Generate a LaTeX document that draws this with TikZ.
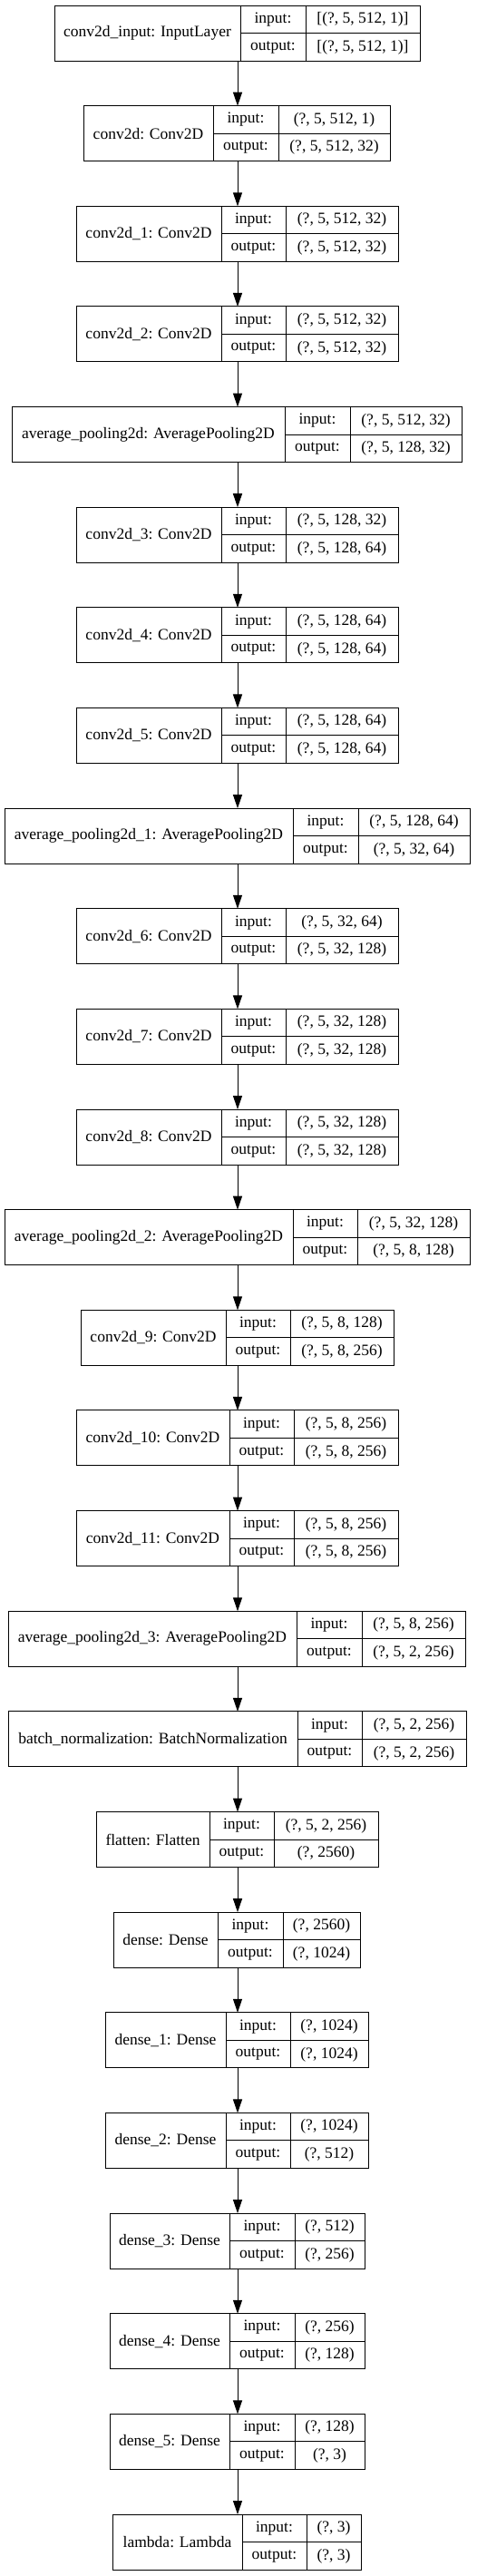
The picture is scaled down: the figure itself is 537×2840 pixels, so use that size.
\documentclass[tikz,border=0pt]{standalone}
\usepackage{fontspec}
\setmainfont{Liberation Serif}
\usetikzlibrary{arrows.meta}
\tikzset{
  box/.style={draw=black, line width=1pt, inner sep=0pt, outer sep=0pt, minimum height=61pt, fill=white},
  cell/.style={draw=black, line width=1pt},
  txt/.style={inner sep=0pt, font=\fontsize{17.5}{21}\selectfont},
  arr/.style={draw=black, line width=1pt, -{Triangle[length=15pt, width=10pt]}},
}
\newcommand\layer[8]{%
  \pgfmathsetmacro\lyrtop{6+#1*110.64}%
  \pgfmathsetmacro\lyrwid{#5-#2}%
  \node[box, minimum width=\lyrwid pt, anchor=north west] (L#1) at (#2,\lyrtop) {};
  \draw[cell] (#3,\lyrtop) -- ++(0,61) (#4,\lyrtop) -- ++(0,61) (#3,\lyrtop+30.5) -- (#5,\lyrtop+30.5);
  \node[txt] (N#1) at ({(#2+#3)/2},\lyrtop+30.5) {#6};
  \node[txt] (I#1) at ({(#3+#4)/2},\lyrtop+15.3) {input:};
  \node[txt] (O#1) at ({(#3+#4)/2},\lyrtop+46) {output:};
  \node[txt] (IV#1) at ({(#4+#5)/2},\lyrtop+15.3) {#7};
  \node[txt] (OV#1) at ({(#4+#5)/2},\lyrtop+46) {#8};
}
\begin{document}
\begin{tikzpicture}[x=1pt,y=-1pt]
\useasboundingbox[fill=white] (0,0) rectangle (537,2840);
\coordinate (ax) at (262,0);
\layer{0}{60}{265}{337}{463}{conv2d\_input: InputLayer}{[(?, 5, 512, 1)]}{[(?, 5, 512, 1)]}
\layer{1}{92}{235}{307}{430}{conv2d: Conv2D}{(?, 5, 512, 1)}{(?, 5, 512, 32)}
\layer{2}{84}{244}{315}{439}{conv2d\_1: Conv2D}{(?, 5, 512, 32)}{(?, 5, 512, 32)}
\layer{3}{84}{244}{315}{439}{conv2d\_2: Conv2D}{(?, 5, 512, 32)}{(?, 5, 512, 32)}
\layer{4}{13}{314}{386}{509}{average\_pooling2d: AveragePooling2D}{(?, 5, 512, 32)}{(?, 5, 128, 32)}
\layer{5}{84}{244}{315}{439}{conv2d\_3: Conv2D}{(?, 5, 128, 32)}{(?, 5, 128, 64)}
\layer{6}{84}{244}{315}{439}{conv2d\_4: Conv2D}{(?, 5, 128, 64)}{(?, 5, 128, 64)}
\layer{7}{84}{244}{315}{439}{conv2d\_5: Conv2D}{(?, 5, 128, 64)}{(?, 5, 128, 64)}
\layer{8}{5}{323}{395}{518}{average\_pooling2d\_1: AveragePooling2D}{(?, 5, 128, 64)}{(?, 5, 32, 64)}
\layer{9}{84}{244}{315}{439}{conv2d\_6: Conv2D}{(?, 5, 32, 64)}{(?, 5, 32, 128)}
\layer{10}{84}{244}{315}{439}{conv2d\_7: Conv2D}{(?, 5, 32, 128)}{(?, 5, 32, 128)}
\layer{11}{84}{244}{315}{439}{conv2d\_8: Conv2D}{(?, 5, 32, 128)}{(?, 5, 32, 128)}
\layer{12}{5}{323}{394}{518}{average\_pooling2d\_2: AveragePooling2D}{(?, 5, 32, 128)}{(?, 5, 8, 128)}
\layer{13}{89}{249}{320}{434}{conv2d\_9: Conv2D}{(?, 5, 8, 128)}{(?, 5, 8, 256)}
\layer{14}{84}{253}{324}{439}{conv2d\_10: Conv2D}{(?, 5, 8, 256)}{(?, 5, 8, 256)}
\layer{15}{84}{253}{324}{439}{conv2d\_11: Conv2D}{(?, 5, 8, 256)}{(?, 5, 8, 256)}
\layer{16}{9}{327}{399}{513}{average\_pooling2d\_3: AveragePooling2D}{(?, 5, 8, 256)}{(?, 5, 2, 256)}
\layer{17}{9}{328}{399}{514}{batch\_normalization: BatchNormalization}{(?, 5, 2, 256)}{(?, 5, 2, 256)}
\layer{18}{106}{231}{302}{417}{flatten: Flatten}{(?, 5, 2, 256)}{(?, 2560)}
\layer{19}{125}{240}{312}{397}{dense: Dense}{(?, 2560)}{(?, 1024)}
\layer{20}{116}{249}{320}{406}{dense\_1: Dense}{(?, 1024)}{(?, 1024)}
\layer{21}{116}{249}{320}{406}{dense\_2: Dense}{(?, 1024)}{(?, 512)}
\layer{22}{121}{253}{325}{402}{dense\_3: Dense}{(?, 512)}{(?, 256)}
\layer{23}{121}{253}{325}{402}{dense\_4: Dense}{(?, 256)}{(?, 128)}
\layer{24}{121}{253}{325}{402}{dense\_5: Dense}{(?, 128)}{(?, 3)}
\layer{25}{124}{267}{338}{398}{lambda: Lambda}{(?, 3)}{(?, 3)}
\foreach \a [evaluate=\a as \b using int(\a+1)] in {0,...,24} {
  \draw[arr] (L\a.south -| ax) -- (L\b.north -| ax);
}
\end{tikzpicture}
\end{document}
